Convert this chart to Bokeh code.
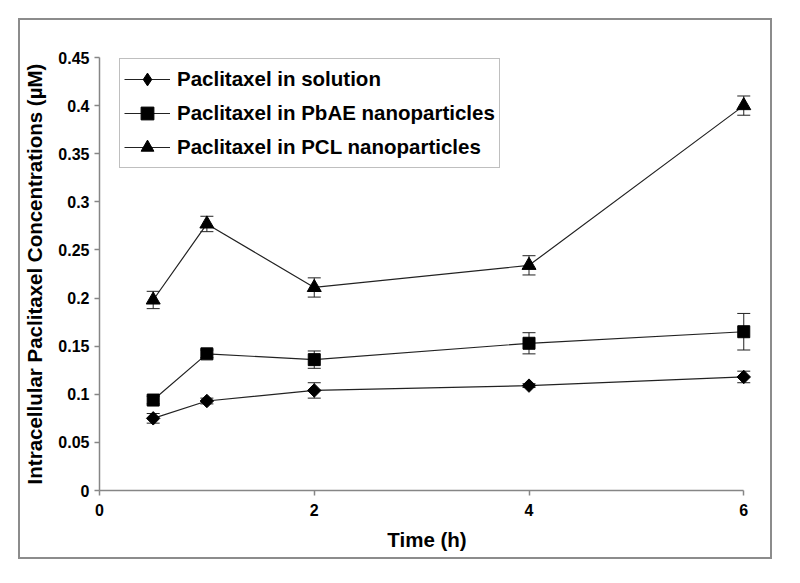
import numpy as np
from bokeh.plotting import figure
from bokeh.models import (ColumnDataSource, FixedTicker, Legend, LegendItem, Range1d)
from bokeh.embed import file_html
from bokeh.resources import INLINE

# ---- data ----
time_h = [0.5, 1, 2, 4, 6]
solution = [0.075, 0.093, 0.104, 0.109, 0.118]
solution_err = [0.005, 0.003, 0.008, 0.002, 0.006]
pbae = [0.094, 0.142, 0.136, 0.153, 0.165]
pbae_err = [0.004, 0.004, 0.009, 0.011, 0.019]
pcl = [0.198, 0.277, 0.211, 0.234, 0.400]
pcl_err = [0.009, 0.008, 0.010, 0.010, 0.010]

series_names = ["Paclitaxel in solution", "Paclitaxel in PbAE nanoparticles",
                "Paclitaxel in PCL nanoparticles"]
x_ticks = [0, 2, 4, 6]
y_ticks = [0, 0.05, 0.1, 0.15, 0.2, 0.25, 0.3, 0.35, 0.4, 0.45]
y_tick_labels = ["0", "0.05", "0.1", "0.15", "0.2", "0.25", "0.3", "0.35", "0.4", "0.45"]

FONT = "Liberation Sans"
AXIS_GRAY = "#868686"
LINE = "#222222"

p = figure(width=754, height=541, output_backend="svg", toolbar_location=None,
           x_range=Range1d(0, 6.1), y_range=Range1d(0, 0.45),
           min_border_left=78, min_border_top=37, min_border_right=20,
           min_border_bottom=71)
p.margin = (18, 0, 0, 18)
p.styles = {"border": "2px solid #8c8c8c"}
p.outline_line_color = None
p.xgrid.visible = False
p.ygrid.visible = False

def add_series(vals, errs, marker, size, angle=0.0, legend_marker=None):
    src = ColumnDataSource(dict(x=time_h, y=vals,
                                upper=[v + e for v, e in zip(vals, errs)],
                                lower=[v - e for v, e in zip(vals, errs)]))
    p.segment(x0="x", y0="lower", x1="x", y1="upper", source=src,
              line_color=LINE, line_width=1)
    p.scatter("x", "upper", source=src, marker="dash", size=13,
              line_color=LINE, line_width=1)
    p.scatter("x", "lower", source=src, marker="dash", size=13,
              line_color=LINE, line_width=1)
    ln = p.line("x", "y", source=src, line_color=LINE, line_width=1.2)
    lg = None
    if legend_marker is not None:
        # small marker hidden under the data marker; only used for the legend key
        lg = p.scatter("x", "y", source=src, marker=legend_marker, size=8,
                       fill_color="black", line_color="black")
    sc = p.scatter("x", "y", source=src, marker=marker, size=size, angle=angle,
                   fill_color="black", line_color="black")
    return [ln, lg if lg is not None else sc]

r1 = add_series(solution, solution_err, "square", 9.5, np.pi / 4, legend_marker="diamond")
r2 = add_series(pbae, pbae_err, "square", 12)
r3 = add_series(pcl, pcl_err, "triangle", 14)

# axes
for ax in (p.xaxis[0], p.yaxis[0]):
    ax.axis_line_color = AXIS_GRAY
    ax.axis_line_width = 1.5
    ax.major_tick_line_color = AXIS_GRAY
    ax.major_tick_line_width = 1.5
    ax.major_tick_in = 0
    ax.major_tick_out = 5
    ax.minor_tick_line_color = None
    ax.major_label_text_font = FONT
    ax.major_label_text_font_style = "bold"
    ax.major_label_text_font_size = "16px"
    ax.major_label_text_color = "black"
    ax.axis_label_text_font = FONT
    ax.axis_label_text_font_style = "bold"
    ax.axis_label_text_font_size = "20.5px"
    ax.axis_label_text_color = "black"

p.xaxis.ticker = FixedTicker(ticks=x_ticks)
p.xaxis.bounds = (0, 6)
p.xaxis.major_label_standoff = 8
p.xaxis.axis_label = "Time (h)"
p.xaxis.axis_label_standoff = 9

p.yaxis.ticker = FixedTicker(ticks=y_ticks)
p.yaxis.major_label_overrides = {t: s for t, s in zip(y_ticks, y_tick_labels)}
p.yaxis.major_label_standoff = 5
p.yaxis.axis_label = "Intracellular Paclitaxel Concentrations (\u00b5M)"
p.yaxis.axis_label_standoff = 9

legend = Legend(items=[LegendItem(label=series_names[0], renderers=r1),
                       LegendItem(label=series_names[1], renderers=r2),
                       LegendItem(label=series_names[2], renderers=r3)],
                location=(20, 322), orientation="vertical",
                border_line_color="#808080", border_line_width=1.5,
                background_fill_color="white", background_fill_alpha=1,
                label_text_font=FONT, label_text_font_style="bold",
                label_text_font_size="20.5px", label_text_color="black",
                glyph_width=46, glyph_height=32, label_height=32,
                spacing=2, padding=4, margin=0, label_standoff=7)
p.add_layout(legend, "center")

open("out.html", "w").write(file_html(p, INLINE))
